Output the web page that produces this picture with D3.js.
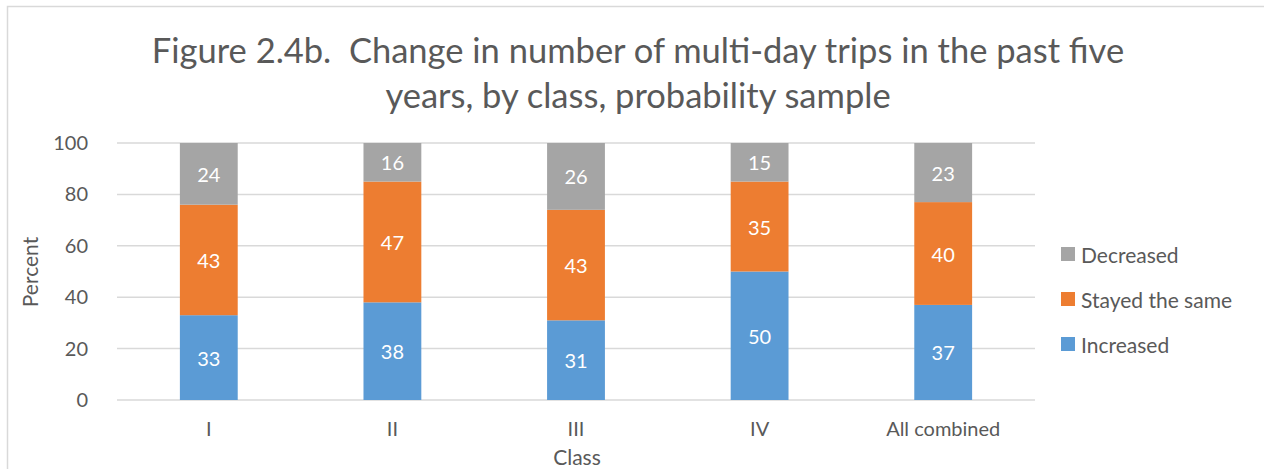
<!DOCTYPE html>
<html lang="en">
<head>
  <meta charset="UTF-8">
  <title>Figure 2.4b</title>
  <script src="https://d3js.org/d3.v7.min.js"></script>
  <style>
    body { margin: 0; background: #fff; font-family: Lato, "Open Sans", sans-serif; }
    text { fill: #595959; white-space: pre; }
  </style>
</head>
<body>
  <svg width="1264" height="469"></svg>
  <script>
    // data
    const classes = ["I", "II", "III", "IV", "All combined"];
    const increased = [33, 38, 31, 50, 37];
    const stayed = [43, 47, 43, 35, 40];
    const decreased = [24, 16, 26, 15, 23];
    const yTicks = [0, 20, 40, 60, 80, 100];

    const series = [
      { key: "Increased", values: increased, color: "#5B9BD5" },
      { key: "Stayed the same", values: stayed, color: "#ED7D31" },
      { key: "Decreased", values: decreased, color: "#A5A5A5" }
    ];

    const rows = classes.map((c, i) => {
      const r = { cls: c };
      series.forEach(s => r[s.key] = s.values[i]);
      return r;
    });

    const svg = d3.select("svg");

    // chart border
    svg.append("rect")
      .attr("x", 7.5).attr("y", 6.5)
      .attr("width", 1300).attr("height", 500)
      .attr("fill", "none").attr("stroke", "#D9D9D9").attr("stroke-width", 1.5);

    const x = d3.scaleBand().domain(classes).range([117, 1035]).paddingInner(0.685).paddingOuter(0.3425);
    const y = d3.scaleLinear().domain([0, 100]).range([400, 143]).clamp(true);

    // title
    const title = svg.append("text")
      .attr("text-anchor", "middle")
      .style("font-size", "34.5px");
    title.append("tspan").attr("x", 638).attr("y", 63)
      .text("Figure 2.4b.  Change in number of multi-day trips in the past five");
    title.append("tspan").attr("x", 638).attr("y", 108)
      .text("years, by class, probability sample");

    // gridlines
    svg.append("g").selectAll("line")
      .data(yTicks)
      .join("line")
      .attr("x1", 117).attr("x2", 1035)
      .attr("y1", d => y(d)).attr("y2", d => y(d))
      .attr("stroke", "#D9D9D9").attr("stroke-width", 1.5);

    // y axis labels
    const yAxis = svg.append("g")
      .attr("transform", "translate(88,0)")
      .call(d3.axisLeft(y).tickValues(yTicks).tickSize(0).tickPadding(0));
    yAxis.select(".domain").remove();
    yAxis.selectAll("text").style("font-size", "20px").style("font-family", "Lato, sans-serif").attr("fill", "#595959");

    // x axis labels
    const xAxis = svg.append("g")
      .attr("transform", "translate(0,422)")
      .call(d3.axisBottom(x).tickSize(0).tickPadding(0));
    xAxis.select(".domain").remove();
    xAxis.selectAll("text").style("font-size", "20px").style("font-family", "Lato, sans-serif").attr("fill", "#595959");

    // bars
    const stack = d3.stack().keys(series.map(s => s.key));
    const stacked = stack(rows);

    const layer = svg.append("g").selectAll("g")
      .data(stacked)
      .join("g")
      .attr("fill", (d, i) => series[i].color);

    layer.selectAll("rect")
      .data(d => d)
      .join("rect")
      .attr("x", d => x(d.data.cls))
      .attr("width", x.bandwidth())
      .attr("y", d => y(d[1]))
      .attr("height", d => y(d[0]) - y(d[1]));

    layer.selectAll("text")
      .data(d => d.map(v => ({ v, key: d.key })))
      .join("text")
      .attr("x", d => x(d.v.data.cls) + x.bandwidth() / 2)
      .attr("y", d => (y(d.v[0]) + y(d.v[1])) / 2)
      .attr("text-anchor", "middle")
      .attr("dominant-baseline", "central")
      .style("font-size", "20px")
      .style("fill", "#fff")
      .text(d => d.v.data[d.key]);

    // axis titles
    svg.append("text")
      .attr("x", 577).attr("y", 465)
      .attr("text-anchor", "middle")
      .style("font-size", "21px")
      .text("Class");

    svg.append("text")
      .attr("transform", "translate(38,272) rotate(-90)")
      .attr("text-anchor", "middle")
      .style("font-size", "21px")
      .text("Percent");

    // legend
    const legend = svg.append("g").selectAll("g")
      .data(series.slice().reverse())
      .join("g")
      .attr("transform", (d, i) => `translate(1061,${254 + i * 45})`);

    legend.append("rect")
      .attr("x", 0).attr("y", -7)
      .attr("width", 14).attr("height", 14)
      .attr("fill", d => d.color);

    legend.append("text")
      .attr("x", 20).attr("y", 0)
      .attr("dominant-baseline", "central")
      .style("font-size", "21px")
      .text(d => d.key);
  </script>
</body>
</html>
